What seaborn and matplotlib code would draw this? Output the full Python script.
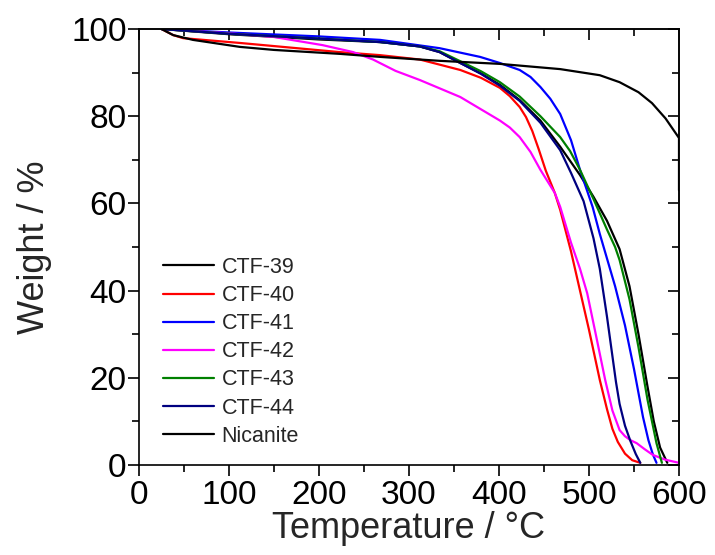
import matplotlib
matplotlib.use("Agg")
import matplotlib.pyplot as plt
import seaborn as sns
import numpy as np
from matplotlib.ticker import MultipleLocator, NullFormatter

# ---- data (Temperature / °C, Weight / %) ----
t_39 = [25, 100, 200, 268, 312, 334, 357, 380, 401, 423, 446, 468, 490, 505, 520, 534, 545, 555, 565, 572, 579, 587]
w_39 = [100, 98.8, 97.6, 97.0, 96.0, 94.7, 92.2, 89.8, 87.2, 83.7, 79.0, 73.0, 66.5, 61.5, 56.0, 49.5, 41.0, 30.0, 18.0, 10.0, 4.0, 0.5]

t_40 = [25, 38, 49, 112, 223, 268, 312, 357, 380, 401, 412, 423, 430, 437, 444, 452, 462, 468, 480, 490, 500, 512, 520, 526, 532, 540, 548, 557]
w_40 = [100, 98.6, 97.9, 96.8, 94.7, 94.0, 93.0, 90.6, 88.8, 86.5, 84.6, 82.1, 79.8, 76.6, 72.5, 67.5, 62.4, 58.5, 49.0, 40.0, 31.0, 19.5, 12.8, 8.3, 5.3, 2.6, 1.1, 0.5]

t_41 = [25, 100, 200, 268, 334, 379, 401, 423, 435, 446, 457, 468, 480, 490, 504, 512, 529, 540, 550, 560, 566, 571, 575]
w_41 = [100, 99.2, 98.3, 97.5, 95.6, 93.6, 92.2, 90.6, 89.0, 86.7, 84.0, 80.5, 74.5, 67.7, 59.2, 53.0, 41.0, 32.0, 22.0, 11.0, 5.7, 2.4, 0.5]

t_42 = [25, 100, 149, 204, 238, 260, 285, 312, 357, 401, 412, 423, 435, 446, 462, 468, 480, 490, 498, 508, 518, 526, 534, 540, 546, 553, 562, 571, 585, 600]
w_42 = [100, 99.0, 98.2, 96.3, 94.7, 93.0, 90.4, 88.3, 84.4, 79.0, 77.4, 75.2, 71.8, 67.7, 62.4, 59.2, 51.0, 45.0, 39.4, 29.5, 19.5, 12.5, 8.0, 6.6, 5.7, 5.0, 3.6, 2.3, 1.2, 0.5]

t_43 = [25, 100, 200, 268, 312, 334, 357, 380, 401, 423, 446, 468, 479, 490, 505, 520, 529, 534, 545, 555, 565, 575, 581]
w_43 = [100, 98.9, 97.8, 97.0, 96.0, 94.9, 92.6, 90.3, 87.8, 84.5, 80.0, 75.2, 72.0, 67.7, 61.0, 54.0, 50.0, 47.0, 38.0, 27.0, 15.0, 5.0, 0.5]

t_44 = [25, 100, 200, 268, 312, 334, 357, 380, 401, 423, 446, 468, 480, 494, 505, 512, 520, 526, 530, 534, 540, 546, 552, 557]
w_44 = [100, 98.9, 97.8, 97.0, 96.0, 94.7, 92.2, 89.7, 87.0, 83.5, 78.5, 72.2, 67.0, 60.5, 52.0, 45.0, 34.0, 25.0, 19.0, 14.0, 9.0, 5.5, 2.5, 0.5]

t_nic = [25, 38, 60, 112, 150, 223, 268, 334, 401, 468, 512, 534, 555, 570, 585, 595, 600, 600]
w_nic = [100, 98.6, 97.5, 95.9, 95.2, 94.3, 93.6, 92.7, 92.0, 90.8, 89.4, 87.8, 85.5, 83.0, 79.5, 76.5, 75.0, 63.0]

series = [
    ("CTF-39", t_39, w_39, "#000000"),
    ("CTF-40", t_40, w_40, "#ff0000"),
    ("CTF-41", t_41, w_41, "#0000ff"),
    ("CTF-42", t_42, w_42, "#ff00ff"),
    ("CTF-43", t_43, w_43, "#008000"),
    ("CTF-44", t_44, w_44, "#000080"),
    ("Nicanite", t_nic, w_nic, "#000000"),
]

sns.set_theme(style="ticks")
plt.rcParams["font.family"] = ["Liberation Sans", "DejaVu Sans"]

fig = plt.figure(figsize=(7.15, 5.55), dpi=100)
ax = fig.add_axes([139 / 715, 1 - 465 / 555, 540 / 715, 436 / 555])

for name, t, w, c in series:
    sns.lineplot(x=t, y=w, ax=ax, color=c, linewidth=1.6, label=name,
                 sort=False, estimator=None)

ax.set_xlim(0, 600)
ax.set_ylim(0, 100)
ax.xaxis.set_major_locator(MultipleLocator(100))
ax.xaxis.set_minor_locator(MultipleLocator(50))
ax.yaxis.set_major_locator(MultipleLocator(20))
ax.yaxis.set_minor_locator(MultipleLocator(10))
ax.tick_params(which="both", direction="out", top=False, right=False,
               labelsize=24, width=1.2, color="black", labelcolor="black")
ax.tick_params(axis="x", pad=3)
ax.tick_params(axis="y", pad=1)
ax.tick_params(which="major", length=8)
ax.tick_params(which="minor", length=5)
for s in ax.spines.values():
    s.set_linewidth(1.2)
    s.set_color("black")

# mirrored inward ticks on top and right
top = ax.secondary_xaxis("top")
top.xaxis.set_major_locator(MultipleLocator(100))
top.xaxis.set_minor_locator(MultipleLocator(50))
top.xaxis.set_major_formatter(NullFormatter())
top.tick_params(which="both", direction="in", width=1.2, color="black")
top.tick_params(which="major", length=8)
top.tick_params(which="minor", length=5)
top.spines["top"].set_linewidth(1.2)

right = ax.secondary_yaxis("right")
right.yaxis.set_major_locator(MultipleLocator(20))
right.yaxis.set_minor_locator(MultipleLocator(10))
right.yaxis.set_major_formatter(NullFormatter())
right.tick_params(which="both", direction="in", width=1.2, color="black")
right.tick_params(which="major", length=8)
right.tick_params(which="minor", length=5)
right.spines["right"].set_linewidth(1.2)

ax.set_xlabel("Temperature / °C", fontsize=26, labelpad=0)
ax.set_ylabel("Weight / %", fontsize=26, labelpad=14)

leg = ax.legend(loc="upper left", bbox_to_anchor=(0.044, 0.477), frameon=False,
                fontsize=15.5, handlelength=2.4, handletextpad=0.33, labelspacing=0.33,
                borderaxespad=0, borderpad=0)
for line in leg.get_lines():
    line.set_linewidth(1.6)

fig.savefig("out.png", dpi=100)
